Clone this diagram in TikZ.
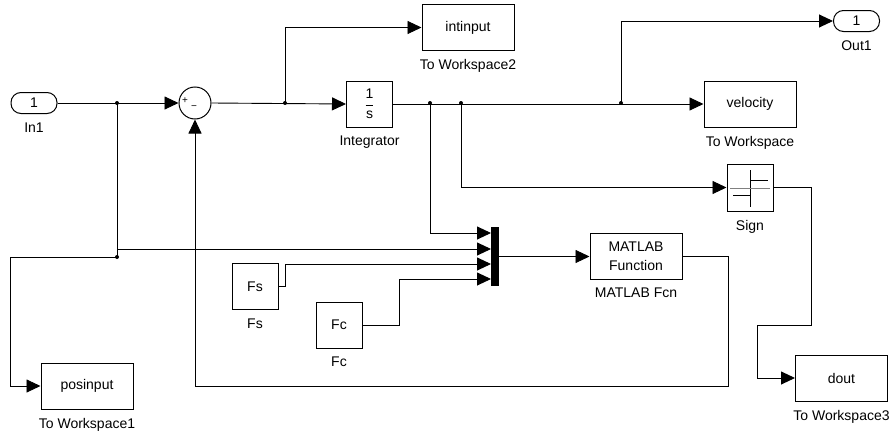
\documentclass[tikz,border=0pt]{standalone}
\usepackage{fontspec}
\setmainfont{Liberation Sans}
\usetikzlibrary{arrows.meta}

\begin{document}
\begin{tikzpicture}[x=1pt, y=-1pt, line width=0.9pt, >={Triangle[length=14pt,width=13pt]},
  every node/.append style={font=\fontsize{14}{17}\selectfont},
  blk/.style={draw, line width=1pt, inner sep=0pt, minimum width=92pt, minimum height=46pt},
  sq/.style={blk, minimum width=46pt},
  port/.style={draw, line width=1pt, rounded corners=10pt, inner sep=0pt, minimum width=46pt, minimum height=21pt},
  every label/.style={inner sep=0pt}, label distance=8pt]
  \useasboundingbox (0,0) rectangle (894,431);

  % blocks
  \node[port, label=below:In1] (in1) at (34,103) {1};
  \node[circle, draw, line width=1pt, minimum size=32pt, inner sep=0pt] (sum) at (195,103) {};
  \node[font=\fontsize{10}{10}\selectfont, inner sep=0pt] (sumplus) at (185,101) {+};
  \node[font=\fontsize{10}{10}\selectfont, inner sep=0pt] (summinus) at (194,108) {−};
  \node[sq, label=below:Integrator] (integ) at (369.5,104) {$\displaystyle\frac{\mbox{1}}{\mbox{s}}$};
  \node[blk, label=below:To Workspace2] (intin) at (468,27.5) {intinput};
  \node[blk, label=below:To Workspace] (vel) at (750,104) {velocity};
  \node[port, label=below:Out1] (out1) at (856.5,21) {1};
  \node[sq, minimum height=47pt, label=below:Sign] (sgn) at (750,187.5) {};
  \node[fill, inner sep=0pt, minimum width=8pt, minimum height=59pt] (mux) at (495,256.5) {};
  \node[blk, align=center, font=\fontsize{14}{19}\selectfont, label=below:MATLAB Fcn] (fcn) at (636,256) {MATLAB\\Function};
  \node[sq, label=below:Fs] (fs) at (255,286.5) {Fs};
  \node[sq, label=below:Fc] (fc) at (339,325) {Fc};
  \node[blk, label=below:To Workspace1] (posin) at (87,386) {posinput};
  \node[blk, label=below:To Workspace3] (dout) at (841.5,378) {dout};

  % sign icon
  \draw[line width=1pt] ([shift={(0,-17.5)}]sgn.center) -- ([shift={(0,19.5)}]sgn.center);
  \draw[line width=1pt] ([shift={(0,-7.5)}]sgn.center) -- ([shift={(18,-7.5)}]sgn.center);
  \draw[gray] ([shift={(-20,0.5)}]sgn.center) -- ([shift={(20,0.5)}]sgn.center);
  \draw[line width=1pt] ([shift={(-17,7.5)}]sgn.center) -- ([shift={(0,7.5)}]sgn.center);

  % branch points and mux inputs
  \coordinate (j1) at (117,103);
  \coordinate (j2) at (285,103);
  \coordinate (j3) at (430,103);
  \coordinate (j4) at (461,103);
  \coordinate (j5) at (621,103);
  \coordinate (j6) at (117,257);
  \coordinate (m1) at (491,233);
  \coordinate (m2) at (491,249);
  \coordinate (m3) at (491,264);
  \coordinate (m4) at (491,279);

  % signals
  \draw[->] (in1.east) -- (sum.west);
  \draw[->] (sum.east) -- (integ.west);
  \draw[->] (j2) |- (intin.west);
  \draw[->] (integ.east) -- (vel.west);
  \draw[->] (j5) |- (out1.west);
  \draw[->] (j4) |- (sgn.west);
  \draw[->] (j3) |- (m1);
  \draw (j1) -- (j6);
  \draw[->] (j1 |- m2) -- (m2);
  \draw[->] (j6) -| ([xshift=-30pt]posin.west) -- (posin.west);
  \draw[->] (fs.east) -- ++(7,0) |- (m3);
  \draw[->] (fc.east) -- ++(37,0) |- (m4);
  \draw[->] (mux.east) -- (mux.east -| fcn.west);
  \draw[->] (fcn.east) -| ++(46,130) -| (sum.south);
  \draw[->] (sgn.east) -| ++(38,137.5) -| ([xshift=-38pt]dout.west) -- (dout.west);
  \foreach \j in {j1,j2,j3,j4,j5,j6}
    \fill (\j) circle (2pt);
\end{tikzpicture}
\end{document}
